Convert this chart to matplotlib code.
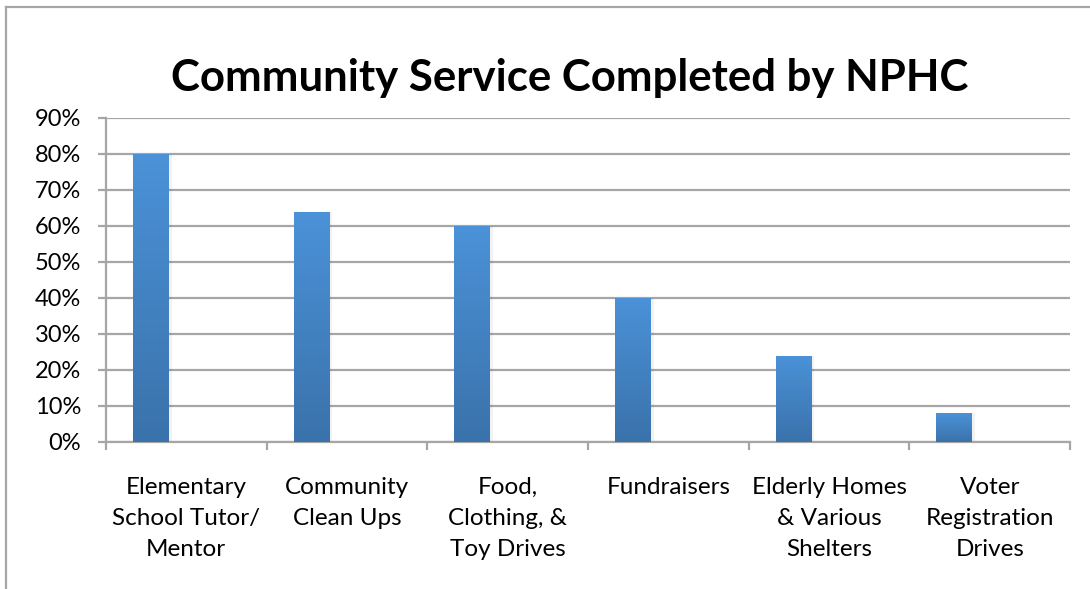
import numpy as np
import matplotlib
matplotlib.use("Agg")
import matplotlib.pyplot as plt
from matplotlib.lines import Line2D
from matplotlib.colors import LinearSegmentedColormap
from matplotlib.ticker import FixedLocator, PercentFormatter

plt.rcParams['font.family'] = ['Lato', 'DejaVu Sans']

# data
categories = ["Elementary\nSchool Tutor/\nMentor", "Community\nClean Ups",
              "Food,\nClothing, &\nToy Drives", "Fundraisers",
              "Elderly Homes\n& Various\nShelters", "Voter\nRegistration\nDrives"]
values = [80, 64, 60, 40, 24, 8]
y_ticks = [0, 10, 20, 30, 40, 50, 60, 70, 80, 90]
title = "Community Service Completed by NPHC"

grid_col = "#a6a6a6"
bar_top = "#4b92d8"
bar_bottom = "#3a72ab"

fig = plt.figure(figsize=(10.9, 5.89), dpi=100)
ax = fig.add_axes([0.0972, 0.2496, 0.8845, 0.5501])

x = np.arange(len(categories))
offset = -0.22   # bars sit in the left part of each slot (empty 2nd series)
width = 0.224

cmap = LinearSegmentedColormap.from_list("bar", [bar_bottom, bar_top])
grad = np.linspace(0, 1, 256).reshape(-1, 1)
for xi, v in zip(x, values):
    left = xi + offset - width / 2
    # soft shadow
    ax.bar(xi + offset + 0.01, v, width=width + 0.015, color="#000000",
           alpha=0.05, zorder=2, linewidth=0)
    bars = ax.bar(xi + offset, v, width=width, color=bar_top, zorder=3,
                  linewidth=0)
    im = ax.imshow(grad, extent=[left, left + width, 0, v], origin="lower",
                   cmap=cmap, aspect="auto", zorder=4, vmin=0, vmax=1)
    im.set_clip_path(bars[0])

ax.set_xlim(-0.5, len(categories) - 0.5)
ax.set_ylim(0, 90)
ax.set_yticks(y_ticks)
ax.yaxis.set_major_formatter(PercentFormatter(decimals=0))
ax.yaxis.grid(True, color=grid_col, linewidth=1.6, zorder=1)
ax.set_axisbelow(True)

ax.xaxis.set_major_locator(FixedLocator(np.arange(len(categories) + 1) - 0.5))
ax.xaxis.set_major_formatter(plt.NullFormatter())
ax.xaxis.set_minor_locator(FixedLocator(x))
ax.set_xticklabels(categories, minor=True)
ax.tick_params(axis="x", which="minor", length=0, pad=25, labelsize=17.5,
               colors="black")
ax.tick_params(axis="x", which="major", length=6, width=1.6, color=grid_col)
ax.tick_params(axis="y", length=6, width=1.6, color=grid_col, pad=12,
               labelsize=17, labelcolor="black")
for lbl in ax.get_xticklabels(minor=True):
    lbl.set_linespacing(1.6)

for s in ["top", "right"]:
    ax.spines[s].set_visible(False)
for s in ["left", "bottom"]:
    ax.spines[s].set_color(grid_col)
    ax.spines[s].set_linewidth(1.6)

fig.text(0.523, 0.868, title, ha="center", va="center", fontsize=31.5,
         fontweight="bold")

# chart border (only top and left edges fall inside the image)
fig.add_artist(Line2D([6 / 1090, 6 / 1090], [0, 1 - 7 / 589],
                      color=grid_col, linewidth=1.6))
fig.add_artist(Line2D([6 / 1090, 1], [1 - 7 / 589, 1 - 7 / 589],
                      color=grid_col, linewidth=1.6))

fig.savefig("out.png", dpi=100)
